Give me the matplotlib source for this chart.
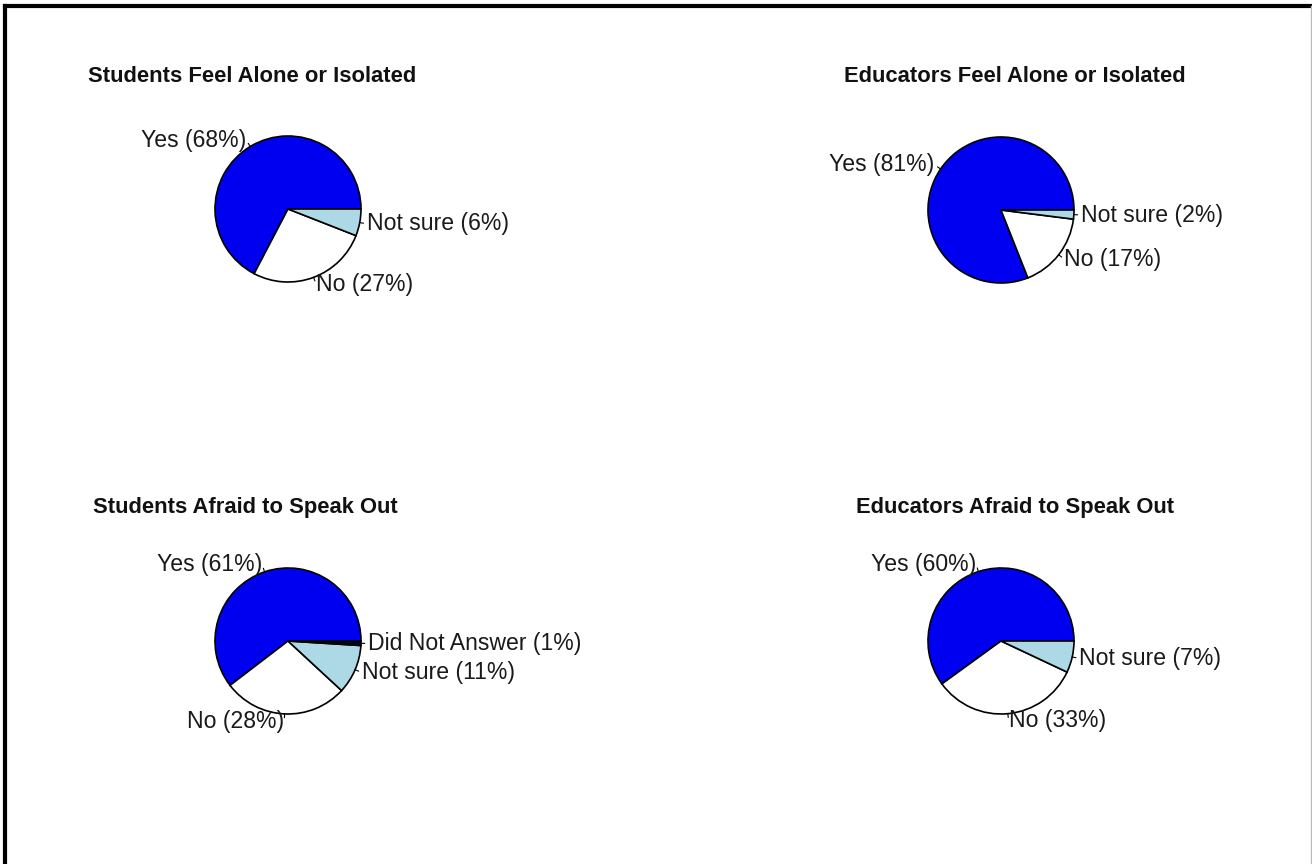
import numpy as np
import matplotlib
matplotlib.use("Agg")
import matplotlib.pyplot as plt
from matplotlib.lines import Line2D

plt.rcParams['font.family'] = ['Liberation Sans', 'DejaVu Sans']

titles = ['Students Feel Alone or Isolated', 'Educators Feel Alone or Isolated',
          'Students Afraid to Speak Out', 'Educators Afraid to Speak Out']
cats_3 = ['Yes', 'No', 'Not sure']
cats_4 = ['Yes', 'No', 'Not sure', 'Did Not Answer']
students_alone = [68, 27, 6]
educators_alone = [81, 17, 2]
students_afraid = [61, 28, 11, 1]
educators_afraid = [60, 33, 7]

colors = ['#0000f0', 'white', '#add8e6', '#000030']

W, H = 1312, 864
fig = plt.figure(figsize=(W / 100, H / 100), dpi=100)

# pie centres / title positions in pixels (from top-left)
R = 73
centers = [(288, 209), (1001, 210), (288, 641), (1001, 641)]
title_pos = [(252, 77), (1015, 77), (245, 507), (1015, 507)]
panels = [(cats_3, students_alone), (cats_3, educators_alone),
          (cats_4, students_afraid), (cats_3, educators_afraid)]

lim = 1.3
size = 2 * lim * R
for (cx, cy), (tx, ty), title, (cats, vals) in zip(centers, title_pos, titles, panels):
    ax = fig.add_axes([(cx - size / 2) / W, 1 - (cy + size / 2) / H, size / W, size / H])
    labels = [f'{c} ({v}%)' for c, v in zip(cats, vals)]
    wedges, texts = ax.pie(vals, labels=labels, colors=colors[:len(vals)],
                           startangle=0, counterclock=True, labeldistance=1.1,
                           wedgeprops=dict(edgecolor='black', linewidth=1.2),
                           textprops=dict(fontsize=16.6, color='#1a1a1a'))
    for w in wedges:
        mid = np.deg2rad((w.theta1 + w.theta2) / 2)
        ax.plot([np.cos(mid), 1.05 * np.cos(mid)], [np.sin(mid), 1.05 * np.sin(mid)],
                color='black', lw=0.8, clip_on=False)
    ax.set_xlim(-lim, lim)
    ax.set_ylim(-lim, lim)
    ax.set_aspect('equal')
    ax.axis('off')
    fig.text(tx / W, 1 - ty / H, title, ha='center', va='center',
             fontsize=15.8, fontweight='bold', color='#111111')

# outer frame
fig.add_artist(Line2D([5 / W, 5 / W], [0, 1 - 6 / H], transform=fig.transFigure, color='black', lw=3))
fig.add_artist(Line2D([5 / W, 1], [1 - 6 / H, 1 - 6 / H], transform=fig.transFigure, color='black', lw=3))
fig.add_artist(Line2D([1 - 1.5 / W, 1 - 1.5 / W], [0, 1 - 6 / H], transform=fig.transFigure, color='#bbbbbb', lw=1))

fig.savefig('out.png', dpi=100)
